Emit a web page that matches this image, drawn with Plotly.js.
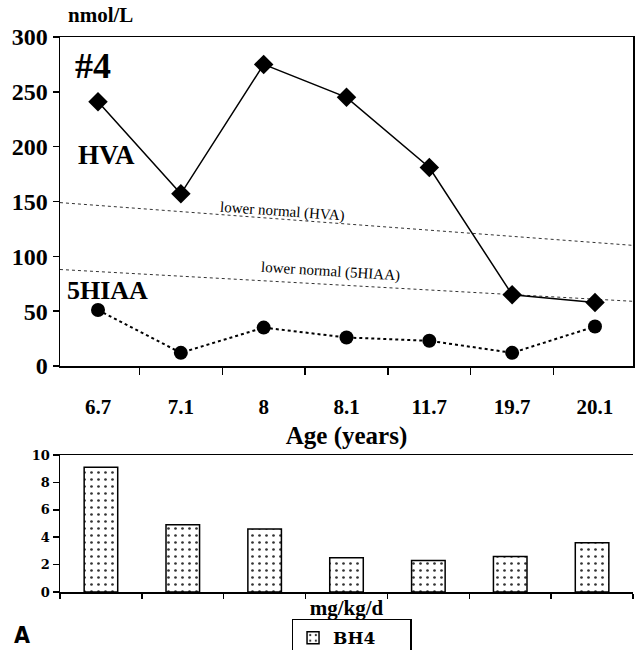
<!DOCTYPE html>
<html>
<head>
<meta charset="utf-8">
<script src="https://cdn.plot.ly/plotly-3.0.1.min.js"></script>
<style>html,body{margin:0;padding:0;background:#fff}#chart{width:638px;height:650px}</style>
</head>
<body>
<div id="chart"></div>
<script>
// Data
const ages = ["6.7", "7.1", "8", "8.1", "11.7", "19.7", "20.1"];
const hva = [241, 157, 275, 245, 181, 65, 58];
const hiaa = [51, 12, 35, 26, 23, 12, 36];
const bh4 = [9.1, 4.9, 4.6, 2.5, 2.3, 2.6, 3.6];
// lower normal reference lines: [value at left edge, value at right edge]
const lowerNormalHVA = [149, 110];
const lowerNormalHIAA = [88, 59];
const yTicks = [0, 50, 100, 150, 200, 250, 300];
const y2Ticks = [0, 2, 4, 6, 8, 10];

const serif = "Liberation Serif";
const b = s => "<b>" + s + "</b>";

const traces = [
  {
    x: ages, y: hva, type: "scatter", mode: "lines+markers",
    line: {color: "#000", width: 1.5},
    marker: {symbol: "diamond", size: 15, color: "#000"},
    xaxis: "x", yaxis: "y", showlegend: false, cliponaxis: false
  },
  {
    x: ages, y: hiaa, type: "scatter", mode: "lines+markers",
    line: {color: "#000", width: 2, dash: "dot"},
    marker: {symbol: "circle", size: 14, color: "#000"},
    xaxis: "x", yaxis: "y", showlegend: false, cliponaxis: false
  },
  {
    x: ages, y: bh4, type: "bar", name: b("BH4"), width: 0.41,
    marker: {
      color: "#fff",
      line: {color: "#000", width: 1.5},
      pattern: {shape: ".", fgcolor: "#333", bgcolor: "#fff", size: 7, solidity: 0.12}
    },
    xaxis: "x2", yaxis: "y2", showlegend: true
  }
];

const layout = {
  width: 638, height: 650,
  margin: {l: 0, r: 0, t: 0, b: 0, autoexpand: false},
  paper_bgcolor: "#fff", plot_bgcolor: "#fff",
  showlegend: true,
  legend: {
    orientation: "h",
    x: 0.551, xanchor: "center", y: -0.012, yanchor: "bottom",
    bordercolor: "#000", borderwidth: 1.5,
    font: {family: "DejaVu Serif", size: 17, color: "#000"},
    itemwidth: 30, tracegroupgap: 0,
    entrywidth: 72, entrywidthmode: "pixels"
  },
  xaxis: {
    domain: [60/638, 633/638], anchor: "y", automargin: false,
    type: "category", categoryorder: "array", categoryarray: ages,
    tickvals: ages, ticktext: ages.map(b),
    showline: true, linecolor: "#000", linewidth: 1.5, mirror: true,
    ticks: "outside", ticklen: 7, tickwidth: 1.5, tickcolor: "#000", tickson: "boundaries",
    ticklabelstandoff: 21,
    tickfont: {family: serif, size: 21, color: "#000"},
    showgrid: false, zeroline: false,
    title: {text: b("Age (years)"), font: {family: serif, size: 25, color: "#000"}, standoff: 9}
  },
  yaxis: {
    domain: [(650-366)/650, (650-37)/650], anchor: "x", automargin: false,
    range: [0, 300], tickvals: yTicks, ticktext: yTicks.map(v => b(String(v))),
    showline: true, linecolor: "#000", linewidth: 1.5, mirror: true,
    ticks: "outside", ticklen: 6, tickwidth: 1.5, tickcolor: "#000",
    tickfont: {family: serif, size: 24, color: "#000"},
    showgrid: false, zeroline: false
  },
  xaxis2: {
    domain: [60/638, 633/638], anchor: "y2", automargin: false,
    type: "category", categoryorder: "array", categoryarray: ages,
    showline: true, linecolor: "#000", linewidth: 1.5, mirror: true,
    ticks: "outside", ticklen: 5, tickwidth: 1.5, tickcolor: "#000", tickson: "boundaries",
    showticklabels: false, showgrid: false, zeroline: false,
    title: {text: b("mg/kg/d"), font: {family: serif, size: 21, color: "#000"}, standoff: 8}
  },
  yaxis2: {
    domain: [(650-592)/650, (650-455)/650], anchor: "x2", automargin: false,
    range: [0, 10], tickvals: y2Ticks, ticktext: y2Ticks.map(v => b(String(v))),
    showline: true, linecolor: "#000", linewidth: 1.5,
    ticks: "outside", ticklen: 6, tickwidth: 1.5, tickcolor: "#000",
    tickfont: {family: "DejaVu Serif", size: 13, color: "#000"},
    showgrid: false, zeroline: false
  },
  shapes: [
    {type: "line", xref: "x domain", yref: "y", x0: 0, x1: 1, y0: lowerNormalHVA[0], y1: lowerNormalHVA[1],
     line: {color: "#333", width: 1, dash: "dot"}, layer: "below"},
    {type: "line", xref: "x domain", yref: "y", x0: 0, x1: 1, y0: lowerNormalHIAA[0], y1: lowerNormalHIAA[1],
     line: {color: "#333", width: 1, dash: "dot"}, layer: "below"}
  ],
  annotations: [
    {text: b("nmol/L"), xref: "paper", yref: "paper", x: 66/638, y: (650-15)/650, xanchor: "left", yanchor: "middle",
     showarrow: false, font: {family: serif, size: 21, color: "#000"}},
    {text: b("#4"), xref: "paper", yref: "paper", x: 73/638, y: (650-66)/650, xanchor: "left", yanchor: "middle",
     showarrow: false, font: {family: serif, size: 36, color: "#000"}},
    {text: b("HVA"), xref: "paper", yref: "paper", x: 76/638, y: (650-155)/650, xanchor: "left", yanchor: "middle",
     showarrow: false, font: {family: serif, size: 27, color: "#000"}},
    {text: b("5HIAA"), xref: "paper", yref: "paper", x: 65/638, y: (650-290)/650, xanchor: "left", yanchor: "middle",
     showarrow: false, font: {family: serif, size: 26, color: "#000"}},
    {text: "lower normal (HVA)", xref: "paper", yref: "paper", x: 282/638, y: (650-212)/650, xanchor: "center", yanchor: "middle",
     textangle: 4, showarrow: false, font: {family: serif, size: 15, color: "#000"}},
    {text: "lower normal (5HIAA)", xref: "paper", yref: "paper", x: 330/638, y: (650-271)/650, xanchor: "center", yanchor: "middle",
     textangle: 3.5, showarrow: false, font: {family: serif, size: 15, color: "#000"}},
    {text: b("A"), xref: "paper", yref: "paper", x: 12/638, y: (650-635)/650, xanchor: "left", yanchor: "middle",
     showarrow: false, font: {family: "DejaVu Sans Condensed", size: 23, color: "#000"}}
  ]
};

Plotly.newPlot("chart", traces, layout, {displayModeBar: false, staticPlot: true});
</script>
</body>
</html>
